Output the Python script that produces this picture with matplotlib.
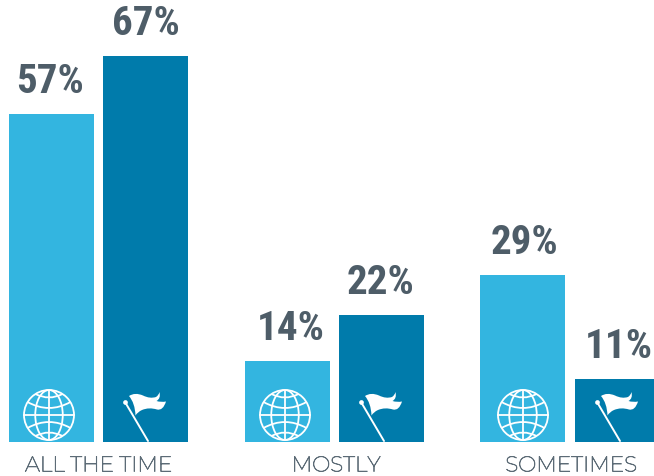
import matplotlib
matplotlib.use("Agg")
import matplotlib.pyplot as plt
import matplotlib.patheffects as pe
from matplotlib.patches import Ellipse, PathPatch
from matplotlib.path import Path

categories = ["ALL THE TIME", "MOSTLY", "SOMETIMES"]
global_values = [57, 14, 29]
local_values = [67, 22, 11]

light = "#33b5e0"
dark = "#007bab"
text_col = "#4e5d68"
label_col = "#5c6b76"
num_font = ["Roboto Condensed", "Roboto"]
cat_font = ["Montserrat", "Inter"]

fig = plt.figure(figsize=(6.54, 4.76), dpi=100)
# axes span the whole figure, x in pixels, y in percent
ax = fig.add_axes([0, 0, 1, 1])
px_per_pct = 5.76
base = 476 - 442
ax.set_xlim(0, 654)
ax.set_ylim(-base / px_per_pct, (476 - base) / px_per_pct)
ax.axis("off")

left_x = [9, 245, 480]
right_x = [103, 339, 575]
globe_dx = [40, 40, 43]
left_num_dx = [-2, 3, 2]
right_num_dx = [0, -1.5, 1]
width = 85
label_x = [98.5, 336, 571]


def pct(h):
    return h / px_per_pct


def curve(points):
    # points: start, then control/end pairs
    codes = [Path.MOVETO] + [Path.CURVE3] * (len(points) - 1)
    return Path(points, codes)


def draw_globe(cx, cy):
    # cx in pixels, cy in data units; round in pixel space
    r = 25
    ry = pct(r)
    kw = dict(fill=False, ec="white", lw=1.3)
    ax.add_patch(Ellipse((cx, cy), 2 * r, 2 * ry, **kw))
    ax.add_patch(Ellipse((cx, cy), 1.1 * r, 2 * ry, **kw))
    ax.plot([cx, cx], [cy - ry, cy + ry], color="white", lw=1.3)
    ax.plot([cx - r, cx + r], [cy, cy], color="white", lw=1.3)
    # latitude lines bow toward the equator
    for sign in (1, -1):
        for off, half, sag in ((0.52, 0.86, 0.24), (0.84, 0.54, 0.14)):
            y0 = cy + sign * off * ry
            y1 = y0 - sign * 2 * sag * ry
            pts = [(cx - half * r, y0), (cx, y1), (cx + half * r, y0)]
            ax.add_patch(PathPatch(curve(pts), **kw))


def draw_flag(x0):
    # offsets in pixels from the bar's left edge and up from the baseline
    ax.plot([x0 + 22, x0 + 45], [pct(40), pct(1)], color="white", lw=1.4, solid_capstyle="round")
    ax.plot([x0 + 22], [pct(40)], "o", color="white", ms=3.4, mew=0)
    shape = [(26, 46), (32, 50), (40, 46.5), (47, 43), (53, 45), (56, 47), (56.5, 50),
             (58, 43.5), (53.5, 41), (58, 39.5), (63, 40.5), (60, 31), (54, 32.5),
             (46, 35), (39, 32), (34.5, 30), (32.5, 26.5), (32, 39), (26, 46)]
    pts = [(x0 + a, pct(b)) for a, b in shape]
    ax.add_patch(PathPatch(curve(pts), fc="white", ec="none"))


for i, cat in enumerate(categories):
    ax.bar(left_x[i], global_values[i], width, align="edge", color=light)
    ax.bar(right_x[i], local_values[i], min(width, 654 - right_x[i]), align="edge", color=dark)
    ax.text(left_x[i] + width / 2 + left_num_dx[i], global_values[i] + pct(32), "%d%%" % global_values[i],
            ha="center", va="center", fontsize=29.5, fontweight="bold", family=num_font, color=text_col)
    ax.text(right_x[i] + width / 2 + right_num_dx[i], local_values[i] + pct(32), "%d%%" % local_values[i],
            ha="center", va="center", fontsize=29.5, fontweight="bold", family=num_font, color=text_col)
    t = ax.text(label_x[i], pct(-23), cat, ha="center", va="center", fontsize=15.5,
                family=cat_font, color=label_col)
    # the installed Montserrat draws very thin, thicken it a little
    t.set_path_effects([pe.withStroke(linewidth=0.5, foreground=label_col)])
    draw_globe(left_x[i] + globe_dx[i], pct(27))
    draw_flag(right_x[i])

fig.savefig("out.png", dpi=100)
